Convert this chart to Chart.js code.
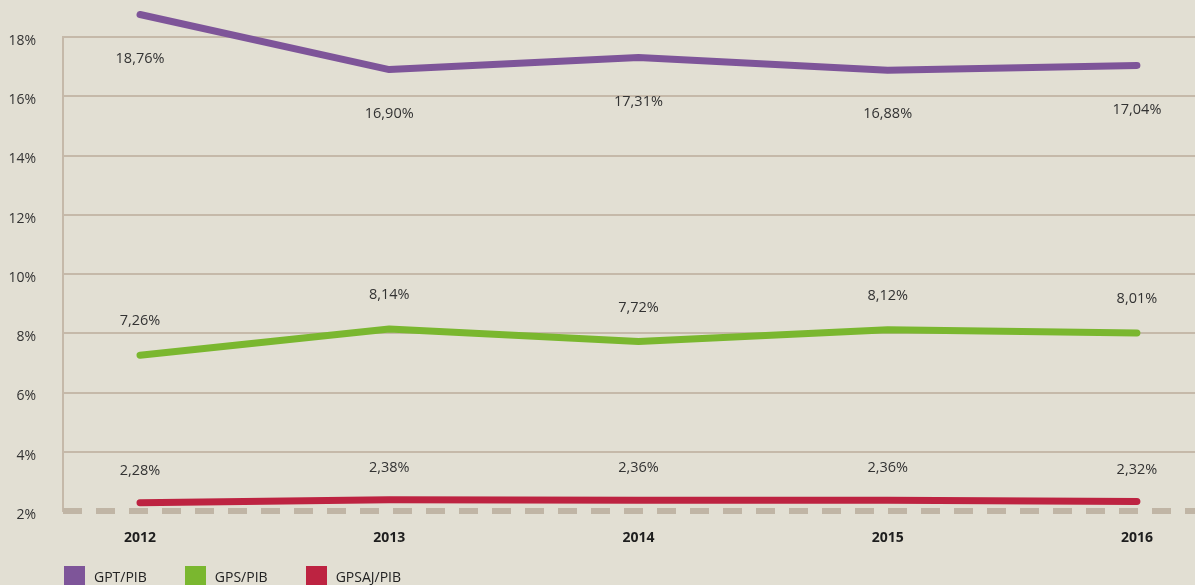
<!DOCTYPE html>
<html>
<head>
<meta charset="utf-8">
<script src="https://cdn.jsdelivr.net/npm/chart.js@4.4.1/dist/chart.umd.min.js"></script>
<style>
  html, body { margin:0; padding:0; background:#e2dfd3; }
  #wrap { position:relative; width:1195px; height:585px; overflow:hidden; background:#e2dfd3; }
  canvas { position:absolute; left:0; top:0; }
  #legend { position:absolute; left:64px; top:566px; display:flex; font-family:"Open Sans", sans-serif; font-size:14px; color:#222; }
  .item { display:flex; align-items:flex-start; margin-right:38px; }
  .box { width:21px; height:21px; margin-right:9px; }
  .txt { line-height:22px; }
</style>
</head>
<body>
<div id="wrap">
  <canvas id="c" width="1195" height="585"></canvas>
  <div id="legend"></div>
</div>
<script>
const years = [2012, 2013, 2014, 2015, 2016];
const seriesNames = ['GPT/PIB', 'GPS/PIB', 'GPSAJ/PIB'];
const gptPib = [18.76, 16.90, 17.31, 16.88, 17.04];
const gpsPib = [7.26, 8.14, 7.72, 8.12, 8.01];
const gpsajPib = [2.28, 2.38, 2.36, 2.36, 2.32];
const yTicks = [2, 4, 6, 8, 10, 12, 14, 16, 18];

const colors = ['#7e5599', '#7ab72f', '#bd2341'];
const labelOffsets = [44, -34, -32];
const allSeries = [gptPib, gpsPib, gpsajPib];

const datasets = allSeries.map((vals, i) => ({
  label: seriesNames[i],
  data: years.map((y, j) => ({ x: y, y: vals[j] })),
  borderColor: colors[i],
  backgroundColor: colors[i],
  borderWidth: 7,
  borderCapStyle: 'round',
  borderJoinStyle: 'round',
  pointRadius: 0,
  tension: 0,
  clip: false
}));

const fmt = v => v.toFixed(2).replace('.', ',') + '%';

const dashedBase = {
  id: 'dashedBase',
  beforeDatasetsDraw(chart) {
    const { ctx, chartArea } = chart;
    const y = chart.scales.y.getPixelForValue(yTicks[0]);
    ctx.save();
    ctx.strokeStyle = '#c0b5a5';
    ctx.lineWidth = 6;
    ctx.setLineDash([19, 14]);
    ctx.beginPath();
    ctx.moveTo(chartArea.left, y);
    ctx.lineTo(chartArea.right, y);
    ctx.stroke();
    ctx.restore();
  }
};

const valueLabels = {
  id: 'valueLabels',
  afterDatasetsDraw(chart) {
    const ctx = chart.ctx;
    ctx.save();
    ctx.font = '400 14.5px "Open Sans", sans-serif';
    ctx.fillStyle = '#333';
    ctx.textAlign = 'center';
    ctx.textBaseline = 'middle';
    chart.data.datasets.forEach((ds, i) => {
      const meta = chart.getDatasetMeta(i);
      meta.data.forEach((pt, j) => {
        ctx.fillText(fmt(ds.data[j].y), pt.x, pt.y + labelOffsets[i]);
      });
    });
    ctx.restore();
  }
};

new Chart(document.getElementById('c'), {
  type: 'line',
  data: { datasets },
  options: {
    responsive: false,
    animation: false,
    layout: { padding: { top: 37, right: 0, left: 0, bottom: 0 } },
    plugins: { legend: { display: false }, tooltip: { enabled: false } },
    scales: {
      x: {
        type: 'linear',
        min: 2011.691,
        max: 2016.233,
        afterBuildTicks: s => { s.ticks = years.map(v => ({ value: v })); },
        afterFit: s => { s.height = 74; },
        grid: { display: false, drawTicks: false },
        border: { display: false },
        ticks: {
          padding: 19,
          color: '#1e1e1e',
          font: { family: '"Open Sans", sans-serif', size: 14, weight: 'bold' },
          callback: v => String(v)
        }
      },
      y: {
        min: 2,
        max: 18,
        afterBuildTicks: s => { s.ticks = yTicks.map(v => ({ value: v })); },
        afterFit: s => { s.width = 63; },
        grid: {
          drawTicks: false,
          lineWidth: 2,
          color: c => (c.tick && c.tick.value === 2) ? 'rgba(0,0,0,0)' : '#c5b9a9'
        },
        border: { display: true, color: '#c5b9a9', width: 2 },
        ticks: {
          padding: 27,
          labelOffset: 4,
          color: '#333',
          font: { family: '"Open Sans", sans-serif', size: 14, weight: '400' },
          callback: v => v + '%'
        }
      }
    }
  },
  plugins: [dashedBase, valueLabels]
});

const legend = document.getElementById('legend');
seriesNames.forEach((n, i) => {
  const it = document.createElement('div');
  it.className = 'item';
  it.innerHTML = '<div class="box" style="background:' + colors[i] + '"></div><div class="txt">' + n + '</div>';
  legend.appendChild(it);
});
</script>
</body>
</html>
